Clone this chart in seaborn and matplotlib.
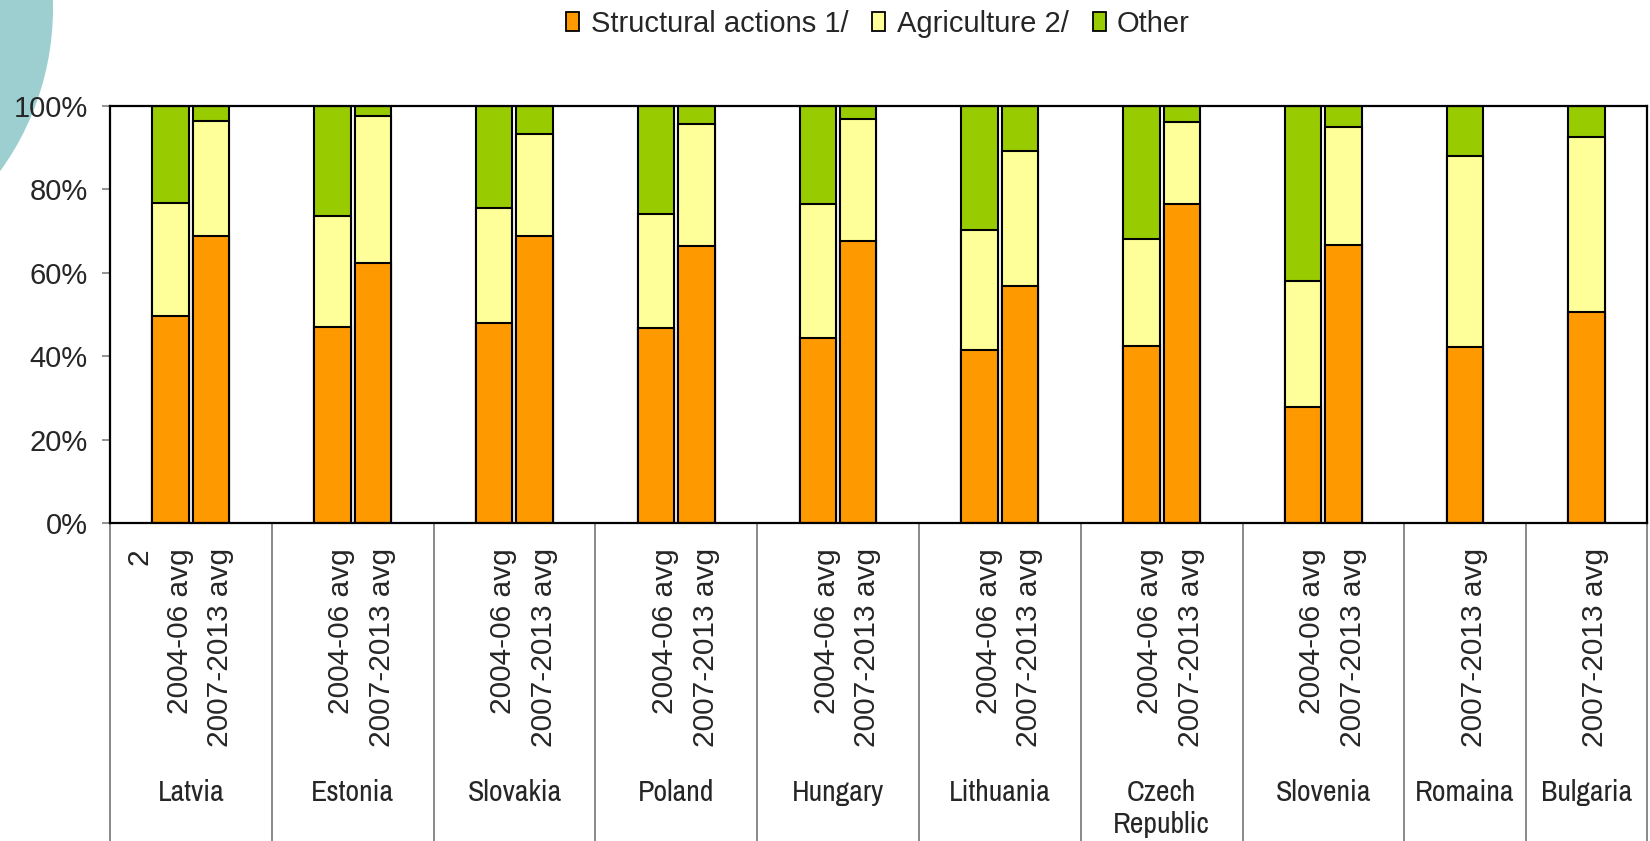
import matplotlib
matplotlib.use("Agg")
import matplotlib.pyplot as plt
import matplotlib.transforms as mtransforms
from matplotlib import font_manager
from matplotlib.patches import Circle, Patch
import seaborn as sns
import pandas as pd

# ---- data -----------------------------------------------------------------
countries = ["Latvia", "Estonia", "Slovakia", "Poland", "Hungary",
             "Lithuania", "Czech\nRepublic", "Slovenia", "Romaina", "Bulgaria"]
periods_by_country = [
    ["2004-06 avg", "2007-2013 avg"],
    ["2004-06 avg", "2007-2013 avg"],
    ["2004-06 avg", "2007-2013 avg"],
    ["2004-06 avg", "2007-2013 avg"],
    ["2004-06 avg", "2007-2013 avg"],
    ["2004-06 avg", "2007-2013 avg"],
    ["2004-06 avg", "2007-2013 avg"],
    ["2004-06 avg", "2007-2013 avg"],
    ["2007-2013 avg"],
    ["2007-2013 avg"],
]
# shares (%) per bar, in the order countries x periods
structural = [49.7, 68.9, 46.9, 62.4, 48.0, 68.9, 46.8, 66.5, 44.4, 67.7,
              41.5, 56.9, 42.5, 76.6, 27.7, 66.6, 42.1, 50.5]
agriculture = [27.0, 27.4, 26.8, 35.1, 27.5, 24.5, 27.4, 29.3, 32.2, 29.3,
               28.7, 32.2, 25.6, 19.6, 30.4, 28.4, 45.9, 42.1]
other = [23.3, 3.7, 26.3, 2.5, 24.5, 6.6, 25.8, 4.2, 23.4, 3.0,
         29.8, 10.9, 31.9, 3.8, 41.9, 5.0, 12.0, 7.4]
series_names = ["Structural actions 1/", "Agriculture 2/", "Other"]
series_colors = ["#FF9900", "#FFFF99", "#99CC00"]
yticks = [0, 20, 40, 60, 80, 100]
first_slot_label = "2"

# ---- category slots ----------------------------------------------------------
# every country gets a blank slot on each side of its bars
slot_keys, slot_labels, group_edges = [], [], [-0.5]
rows = []
k = 0
for ci, (c, plist) in enumerate(zip(countries, periods_by_country)):
    slot_keys.append(f"{ci}:pre")
    slot_labels.append(first_slot_label if ci == 0 else "")
    for p in plist:
        key = f"{ci}:{p}"
        slot_keys.append(key)
        slot_labels.append(p)
        s, a, o = structural[k], agriculture[k], other[k]
        rows.append({"slot": key, "s": s, "sa": s + a, "sao": s + a + o})
        k += 1
    slot_keys.append(f"{ci}:post")
    slot_labels.append("")
    group_edges.append(len(slot_keys) - 0.5)
df = pd.DataFrame(rows)

# ---- style -----------------------------------------------------------------
sns.set_style("white")
names = {f.name for f in font_manager.fontManager.ttflist}
base_font = "Liberation Sans" if "Liberation Sans" in names else "DejaVu Sans"
narrow_font = next((n for n in ("Archivo Narrow", "PT Sans Narrow", "Roboto Condensed")
                    if n in names), base_font)
plt.rcParams["font.family"] = [base_font, "DejaVu Sans"]

W, H = 1650, 841
fig = plt.figure(figsize=(W / 100, H / 100), dpi=100)
ax_left, ax_right, ax_top, ax_bottom = 110, 1647, 106, 523
ax = fig.add_axes([ax_left / W, 1 - ax_bottom / H,
                   (ax_right - ax_left) / W, (ax_bottom - ax_top) / H])

# decorative circle in the top-left corner
fig.patches.append(Circle((-2.24, (H - 8.4) / 100), 2.77,
                          transform=fig.dpi_scale_trans,
                          facecolor="#9dcfd0", edgecolor="none", zorder=-1))

# stacked bars: draw cumulative totals from the top segment down
common = dict(data=df, x="slot", order=slot_keys, width=0.9, saturation=1,
              edgecolor="black", linewidth=1.5, errorbar=None, ax=ax)
sns.barplot(y="sao", color=series_colors[2], **common)
sns.barplot(y="sa", color=series_colors[1], **common)
sns.barplot(y="s", color=series_colors[0], **common)

ax.set_ylim(0, 100)
ax.set_xlim(-0.5, len(slot_keys) - 0.5)
ax.set_yticks(yticks)
ax.set_yticklabels([f"{v}%" for v in yticks])
ax.set_xlabel("")
ax.set_ylabel("")
ax.tick_params(axis="y", left=True, length=6, width=1.2, color="#808080",
               pad=10, labelsize=21)
ax.set_xticks(range(len(slot_keys)))
ax.set_xticklabels(slot_labels, rotation=90, fontsize=21.5)
ax.tick_params(axis="x", bottom=False, length=0, pad=18)
shift = mtransforms.ScaledTranslation(6.5 / 72, 0, fig.dpi_scale_trans)
for lbl in ax.get_xticklabels():
    lbl.set_transform(lbl.get_transform() + shift)

for sp in ax.spines.values():
    sp.set_visible(True)
    sp.set_color("black")
    sp.set_linewidth(1.6)

# group separators below the axis
axis_h = ax_bottom - ax_top
y_low = -(H - ax_bottom) / axis_h
ax.vlines(group_edges, y_low, 0, transform=ax.get_xaxis_transform(),
          colors="#808080", linewidth=1.3, clip_on=False)

# country names
starts = group_edges[:-1]
ends = group_edges[1:]
y_country = -(779 - ax_bottom) / axis_h
for c, a, b in zip(countries, starts, ends):
    ax.text((a + b) / 2, y_country, c, transform=ax.get_xaxis_transform(),
            ha="center", va="top", fontsize=21.5, family=[narrow_font, "DejaVu Sans"],
            linespacing=1.22)

# legend
handles = [Patch(facecolor=col, edgecolor="black", linewidth=1.3)
           for col in series_colors]
fig.legend(handles, series_names, loc="center", bbox_to_anchor=(878 / W, 1 - 23.5 / H),
           ncol=3, frameon=False, fontsize=21, handlelength=0.45, handleheight=0.65,
           handletextpad=0.38, columnspacing=0.83, borderpad=0, borderaxespad=0)

fig.savefig("out.png", dpi=100)
